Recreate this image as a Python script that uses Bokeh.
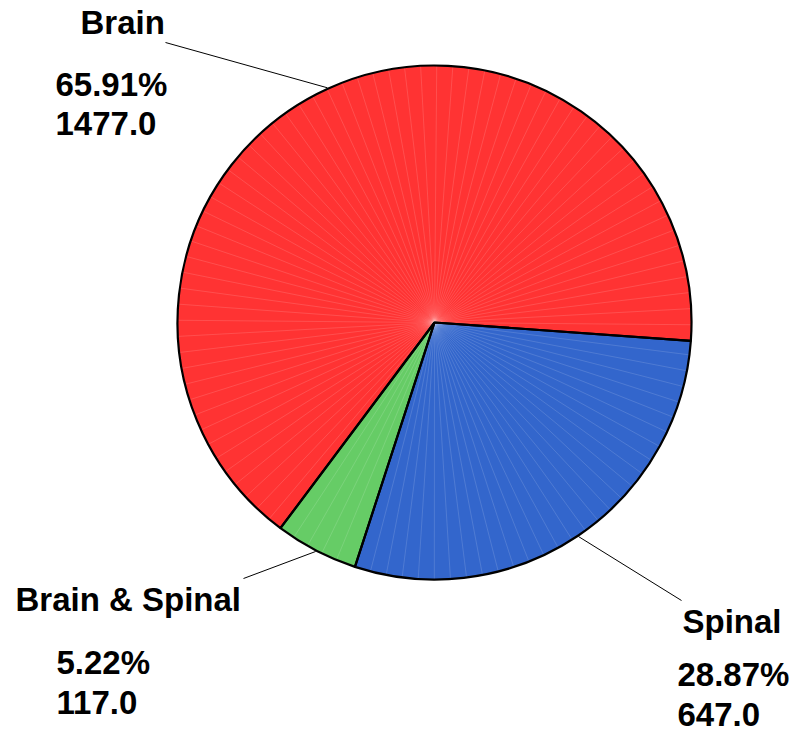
import math
from bokeh.plotting import figure
from bokeh.models import Range1d, ColumnDataSource
from bokeh.core.properties import value
from bokeh.embed import file_html
from bokeh.resources import INLINE

# ---- data ----
categories = ["Brain", "Brain & Spinal", "Spinal"]
counts = [1477.0, 117.0, 647.0]
colors = ["#FF3333", "#66CC66", "#3366CC"]

# ---- layout (picture pixel coords, y measured from top) ----
W, H = 798, 734
cx, cy_page = 434, 322
R = 257
start_deg = -4.1
TXT_SHIFT = 13
name_pos = {"Brain": (80, 35), "Brain & Spinal": (15, 612), "Spinal": (682, 634)}
pct_pos = {"Brain": (55, 97), "Brain & Spinal": (56, 675), "Spinal": (677, 687)}
val_pos = {"Brain": (55, 136), "Brain & Spinal": (56, 715), "Spinal": (677, 727)}
leader_out = {"Brain": (165, 42), "Brain & Spinal": (243, 578), "Spinal": (681, 600)}


def Y(yp):
    return H - yp


cy = Y(cy_page)

p = figure(width=W, height=H, x_range=Range1d(0, W), y_range=Range1d(0, H),
           output_backend="svg", toolbar_location=None, min_border=0)
p.axis.visible = False
p.grid.visible = False
p.outline_line_color = None
p.background_fill_color = "white"

total = sum(counts)
starts, ends = [], []
a = math.radians(start_deg)
for c in counts:
    starts.append(a)
    a += 2 * math.pi * c / total
    ends.append(a)

src = ColumnDataSource(dict(start=starts, end=ends, color=colors))
p.wedge(x=cx, y=cy, radius=R, start_angle="start", end_angle="end", fill_color="color",
        line_color=None, source=src)

# faint radial seams
seg = 2 * math.pi / 100
xs0, ys0, xs1, ys1 = [], [], [], []
for s, e in zip(starts, ends):
    t = s + seg
    while t < e - seg * 0.3:
        xs0.append(cx); ys0.append(cy)
        xs1.append(cx + R * math.cos(t)); ys1.append(cy + R * math.sin(t))
        t += seg
p.segment(x0=xs0, y0=ys0, x1=xs1, y1=ys1, line_color="white", line_alpha=0.2, line_width=0.7)

# outlines
p.wedge(x=cx, y=cy, radius=R, start_angle="start", end_angle="end", fill_color=None,
        line_color="black", line_width=2.2, source=src)

font = value("Liberation Sans")
for i, name in enumerate(categories):
    mid = (starts[i] + ends[i]) / 2
    ix, iy = cx + (R + 1) * math.cos(mid), cy + (R + 1) * math.sin(mid)
    ox, oy = leader_out[name]
    p.line([ox, ix], [Y(oy), iy], line_color="black", line_width=1)
    pct = 100 * counts[i] / total
    for txt, (tx, ty) in [(name, name_pos[name]), (f"{pct:.2f}%", pct_pos[name]), (f"{counts[i]:.1f}", val_pos[name])]:
        p.text(x=[tx], y=[Y(ty - TXT_SHIFT)], text=[txt], text_font=font, text_font_style="bold",
               text_font_size="33px", text_color="black", text_baseline="alphabetic", text_align="left")

open("out.html", "w").write(file_html(p, INLINE))
